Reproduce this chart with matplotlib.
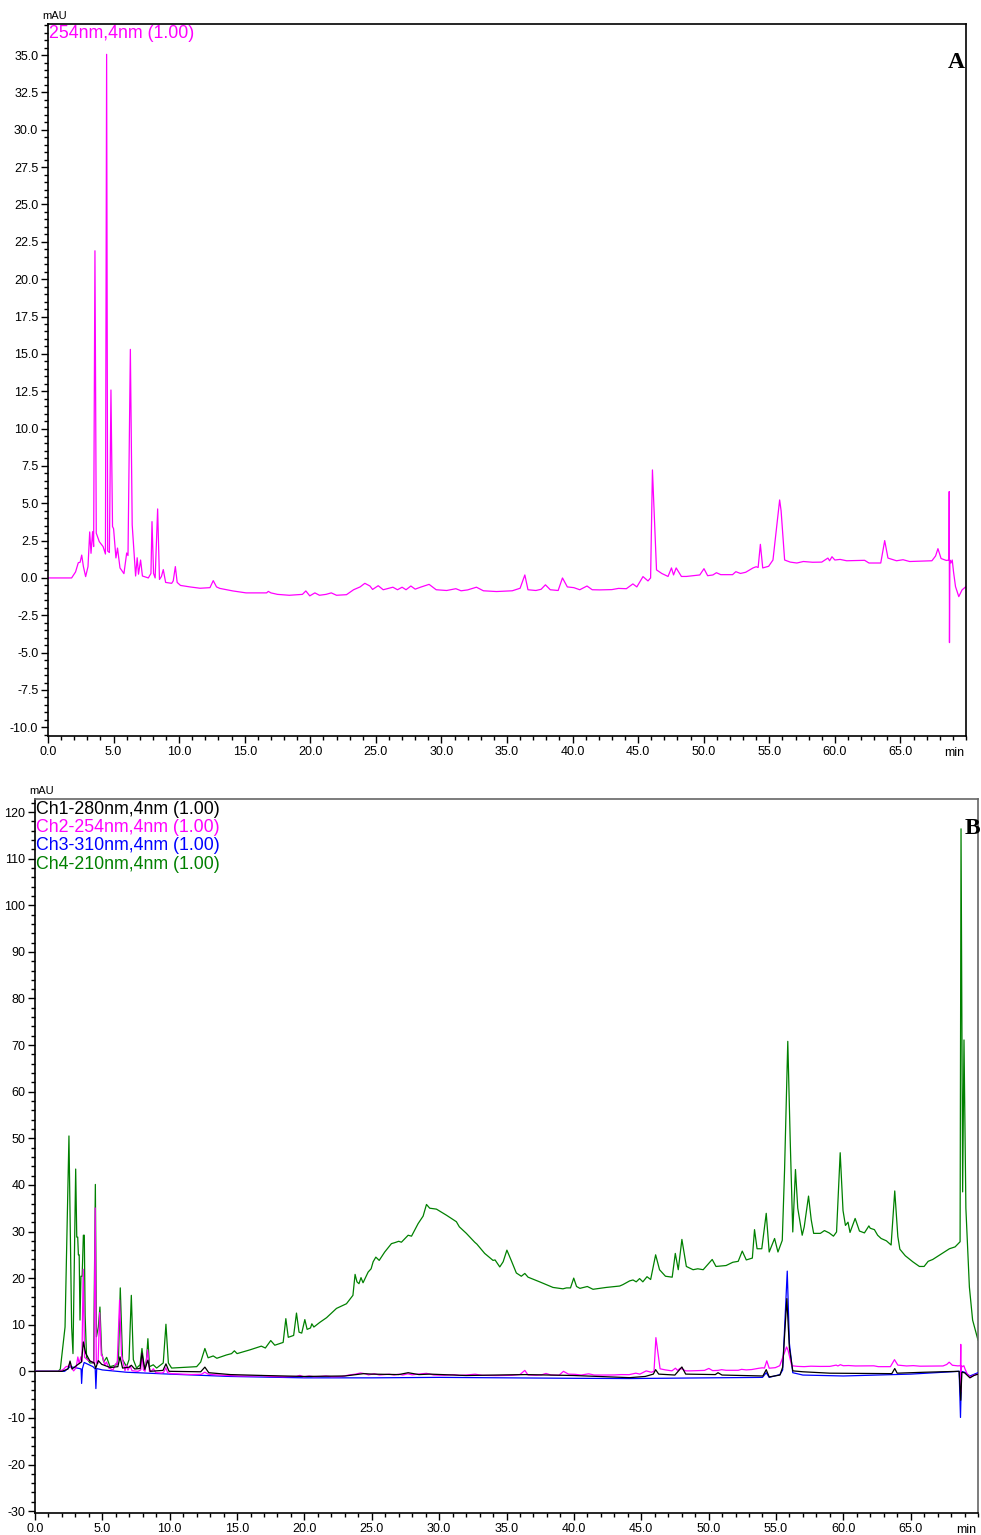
import matplotlib
matplotlib.use("Agg")
import matplotlib.pyplot as plt
from matplotlib.ticker import MultipleLocator, FixedLocator
import numpy as np

plt.rcParams['font.family'] = ['Liberation Sans', 'DejaVu Sans']

# ---------------- DATA ----------------
# Ch2 254 nm trace (also the single trace of panel A): time (min), signal (mAU)
ch2_t = [0.0, 1.8, 2.1, 2.31, 2.45, 2.57, 2.7, 2.87, 3.05, 3.18, 3.28, 3.40, 3.48, 3.58, 3.68,
         3.91, 4.2, 4.38, 4.47, 4.55, 4.68, 4.80, 4.92, 5.0, 5.18, 5.3, 5.49, 5.79, 6.0, 6.1,
         6.28, 6.42, 6.5, 6.68, 6.8, 6.9, 7.06, 7.2, 7.65, 7.85, 7.93, 8.05, 8.17, 8.36, 8.5,
         8.65, 8.79, 8.97, 9.43, 9.55, 9.71, 9.85, 10.1, 10.82, 11.6, 12.35, 12.6, 12.85, 13.1,
         14.1, 15.1, 16.67, 16.8, 17.0, 17.5, 18.4, 19.4, 19.66, 19.96, 20.35, 20.7, 21.2, 21.6,
         22.0, 22.76, 23.3, 23.8, 24.16, 24.55, 24.75, 25.18, 25.56, 26.3, 26.65, 27.0, 27.3,
         27.67, 28.0, 28.4, 29.06, 29.6, 30.4, 31.1, 31.5, 32.0, 32.67, 33.2, 34.2, 35.4, 36.0,
         36.36, 36.6, 37.2, 37.6, 37.93, 38.3, 38.9, 39.23, 39.6, 40.1, 40.55, 41.1, 41.5, 42.07,
         43.0, 43.5, 44.1, 44.6, 44.9, 45.37, 45.75, 45.95, 46.09, 46.4, 46.8, 47.28, 47.54, 47.7,
         47.9, 48.3, 48.68, 49.7, 50.02, 50.3, 50.7, 50.97, 51.3, 52.2, 52.45, 52.8, 53.2, 53.76,
         54.0, 54.15, 54.32, 54.5, 54.95, 55.28, 55.79, 55.9, 56.17, 56.6, 57.1, 57.6, 58.3, 59.0,
         59.47, 59.6, 59.78, 60.0, 60.4, 60.9, 62.27, 62.6, 63.5, 63.8, 64.05, 64.7, 65.2, 65.7,
         67.4, 67.68, 67.86, 68.1, 68.5, 68.70, 68.72, 68.74, 68.77, 68.85, 68.95, 69.05, 69.2,
         69.45, 69.7, 70.0]
ch2_v = [0.0, 0.0, 0.4, 1.02, 1.05, 1.53, 0.76, 0.09, 0.76, 3.08, 1.65, 3.1, 2.1, 21.9, 3.0,
         2.43, 2.1, 1.6, 35.05, 1.8, 1.7, 12.58, 3.44, 3.3, 1.34, 2.0, 0.67, 0.29, 1.67, 1.5,
         15.3, 3.55, 2.5, 0.13, 1.35, 0.25, 1.2, 0.13, 0.0, 0.3, 3.77, 0.3, 0.0, 4.62, -0.1,
         0.1, 0.56, -0.3, -0.36, -0.2, 0.76, -0.3, -0.5, -0.6, -0.69, -0.65, -0.18, -0.6, -0.7,
         -0.87, -1.0, -1.0, -0.9, -1.0, -1.1, -1.16, -1.1, -0.87, -1.2, -1.0, -1.16, -1.1, -1.0,
         -1.16, -1.12, -0.79, -0.6, -0.36, -0.54, -0.77, -0.52, -0.79, -0.62, -0.79, -0.62, -0.79,
         -0.54, -0.75, -0.62, -0.43, -0.79, -0.84, -0.72, -0.86, -0.8, -0.62, -0.86, -0.91, -0.86, -0.69,
         0.2, -0.79, -0.84, -0.76, -0.46, -0.79, -0.84, 0.0, -0.6, -0.65, -0.79, -0.54, -0.79, -0.8,
         -0.78, -0.7, -0.72, -0.4, -0.6, 0.09, -0.2, 0.0, 7.23, 0.54, 0.3, 0.1, 0.67, 0.2,
         0.67, 0.1, 0.1, 0.2, 0.62, 0.15, 0.2, 0.35, 0.22, 0.22, 0.42, 0.3, 0.38, 0.67,
         0.75, 0.7, 2.25, 0.67, 0.78, 1.2, 5.22, 4.5, 1.2, 1.06, 1.0, 1.1, 1.05, 1.06,
         1.33, 1.15, 1.42, 1.2, 1.24, 1.15, 1.18, 1.0, 1.0, 2.5, 1.33, 1.15, 1.22, 1.1,
         1.15, 1.47, 1.96, 1.3, 1.17, 1.2, 5.78, -4.33, 1.2, 1.0, 1.2, 0.4, -0.58,
         -1.25, -0.8, -0.58]

# Ch4 210 nm trace
ch4_t = [0.0, 1.73, 1.88, 2.23, 2.52, 2.72, 2.82, 3.02, 3.1, 3.17, 3.22, 3.28, 3.34, 3.41, 3.5,
         3.59, 3.66, 3.72, 3.83, 4.08, 4.35, 4.48, 4.56, 4.7, 4.82, 4.95, 5.1, 5.32, 5.57, 6.06,
         6.2, 6.33, 6.5, 6.8, 6.98, 7.15, 7.3, 7.54, 7.8, 7.94, 8.1, 8.25, 8.38, 8.5, 8.78,
         9.03, 9.52, 9.72, 9.9, 10.14, 12.0, 12.3, 12.61, 12.85, 13.23, 13.5, 14.2, 14.59, 14.8,
         15.0, 15.95, 16.8, 17.1, 17.5, 17.8, 18.42, 18.62, 18.8, 19.2, 19.41, 19.6, 19.8, 20.03,
         20.2, 20.45, 20.55, 20.7, 21.14, 21.64, 22.38, 23.12, 23.6, 23.76, 23.9, 24.05, 24.2,
         24.35, 24.73, 24.95, 25.1, 25.3, 25.55, 25.96, 26.46, 26.7, 27.0, 27.2, 27.7, 27.95,
         28.44, 28.81, 29.06, 29.3, 29.8, 30.54, 31.28, 31.5, 32.02, 32.64, 32.8, 33.38, 34.0,
         34.15, 34.5, 34.75, 35.03, 35.35, 35.73, 36.1, 36.36, 36.6, 37.46, 38.45, 39.19, 39.45,
         39.75, 39.99, 40.2, 40.45, 41.0, 41.42, 42.41, 43.4, 43.64, 44.14, 44.39, 44.63, 44.88,
         45.12, 45.43, 45.7, 46.07, 46.36, 46.8, 47.3, 47.53, 47.75, 48.02, 48.35, 48.85, 49.2,
         49.6, 50.27, 50.55, 51.3, 51.8, 52.2, 52.5, 52.8, 53.25, 53.41, 53.6, 53.95, 54.28,
         54.5, 54.9, 55.15, 55.47, 55.64, 55.88, 56.06, 56.25, 56.45, 56.62, 56.95, 57.1, 57.42,
         57.62, 57.8, 58.3, 58.6, 58.95, 59.27, 59.5, 59.77, 59.98, 60.16, 60.35, 60.5, 60.88,
         61.2, 61.57, 61.9, 62.0, 62.31, 62.55, 62.81, 63.2, 63.55, 63.82, 64.05, 64.2, 64.6,
         65.16, 65.65, 66.0, 66.3, 66.64, 67.13, 67.88, 68.3, 68.67, 68.74, 68.86, 68.96, 69.1,
         69.36, 69.6, 70.0]
ch4_v = [0.0, 0.0, 0.5, 9.5, 50.5, 9.5, 3.8, 43.4, 28.8, 28.8, 25.0, 25.0, 11.0, 20.4, 20.4,
         29.2, 29.2, 12.0, 2.9, 1.8, 1.8, 40.1, 7.4, 9.5, 13.8, 3.9, 2.0, 3.0, 1.0, 1.4,
         3.0, 17.9, 2.5, 1.0, 2.5, 16.3, 2.5, 0.7, 1.4, 4.9, 1.0, 1.5, 7.0, 1.0, 1.4,
         0.7, 1.8, 10.1, 1.8, 0.7, 1.0, 2.0, 4.9, 2.9, 3.3, 2.8, 3.5, 3.8, 4.4,
         3.8, 4.6, 5.4, 5.0, 6.6, 5.6, 6.2, 11.3, 7.3, 7.7, 12.5, 8.4, 8.2, 11.1,
         9.0, 9.3, 10.2, 9.5, 10.5, 11.5, 13.5, 14.5, 16.3, 20.8, 19.2, 18.8, 20.1,
         19.0, 21.3, 22.0, 23.5, 24.5, 23.8, 25.6, 27.4, 27.6, 27.9, 27.7, 29.2, 29.0,
         31.7, 33.3, 35.8, 35.0, 34.8, 33.5, 32.1, 31.0, 29.6, 27.7, 27.3, 25.3, 23.8,
         23.9, 22.4, 23.5, 26.0, 23.8, 21.1, 20.4, 21.0, 20.2, 19.2, 18.0, 17.7, 17.9,
         17.9, 20.0, 18.2, 17.8, 18.2, 17.6, 18.0, 18.3, 18.6, 19.4, 19.6, 19.2, 19.9,
         19.2, 20.3, 19.7, 25.0, 21.8, 20.4, 20.2, 25.3, 21.8, 28.3, 22.5, 21.8, 22.0,
         21.8, 24.0, 22.5, 22.7, 23.4, 23.6, 25.8, 23.9, 24.3, 30.4, 26.3, 26.3, 33.9,
         25.6, 28.5, 25.6, 28.1, 43.1, 70.8, 49.6, 29.9, 43.3, 35.0, 29.2, 31.0, 37.6,
         32.5, 29.6, 29.6, 30.2, 29.7, 29.0, 29.9, 46.9, 34.5, 31.3, 32.0, 29.8, 32.8,
         30.1, 29.7, 31.2, 30.7, 30.4, 29.2, 28.5, 28.0, 27.1, 38.7, 28.9, 26.2, 24.8,
         23.5, 22.5, 22.5, 23.6, 24.0, 24.9, 26.3, 26.7, 27.8, 116.4, 38.5, 71.1, 35.0,
         18.1, 11.0, 6.7]

# Ch1 280 nm trace
ch1_t = [0.0, 2.0, 2.45, 2.6, 2.75, 3.2, 3.45, 3.59, 3.76, 4.08, 4.4, 4.5, 4.7, 4.95, 5.6,
         6.15, 6.31, 6.5, 7.0, 7.15, 7.4, 7.8, 7.94, 8.15, 8.38, 8.55, 9.5, 9.72, 9.95, 12.3,
         12.61, 12.9, 14.5, 17.0, 20.0, 23.0, 24.4, 25.0, 27.0, 27.7, 28.5, 29.3, 32.0, 36.4,
         40.0, 44.14, 45.3, 45.9, 46.07, 46.3, 47.5, 48.02, 48.3, 50.5, 50.7, 51.0, 54.03, 54.28,
         54.5, 55.3, 55.5, 55.81, 56.0, 56.25, 57.0, 59.0, 63.6, 63.82, 64.0, 66.0, 68.6, 68.72,
         68.8, 69.0, 69.4, 69.7, 70.0]
ch1_v = [0.0, 0.0, 0.5, 2.2, 0.5, 1.5, 2.0, 6.3, 3.9, 2.2, 1.8, 0.6, 2.3, 1.5, 0.8,
         1.0, 3.1, 0.7, 0.9, 1.3, 0.5, 0.6, 3.9, 0.4, 2.4, 0.0, 0.2, 1.6, 0.0, -0.1,
         0.9, -0.3, -0.7, -0.9, -1.1, -1.0, -0.5, -0.6, -0.7, -0.3, -0.7, -0.6, -0.9, -0.7,
         -0.9, -1.36, -1.1, -0.6, 0.35, -0.6, -0.8, 0.93, -0.6, -0.7, -0.3, -0.8, -1.0, 0.35,
         -1.2, -0.8, 0.9, 15.6, 5.0, 0.1, -0.1, -0.4, -0.5, 0.6, -0.4, -0.2, 0.0, -6.2,
         -0.2, -0.3, -1.4, -0.9, -0.6]

# Ch3 310 nm trace
ch3_t = [0.0, 2.2, 2.6, 3.3, 3.42, 3.46, 3.52, 3.65, 4.3, 4.47, 4.52, 4.58, 5.0, 6.8, 10.0,
         14.47, 20.0, 25.0, 30.0, 35.0, 40.0, 44.14, 54.0, 54.28, 54.5, 55.3, 55.5, 55.84, 56.0,
         56.25, 57.0, 60.0, 65.0, 68.6, 68.70, 68.78, 69.0, 69.4, 70.0]
ch3_v = [0.0, 0.0, 1.0, 0.6, 0.5, -2.6, 0.6, 1.9, 1.0, 0.5, -3.7, 0.6, 0.3, -0.2, -0.6,
         -1.1, -1.4, -1.4, -1.3, -1.4, -1.5, -1.55, -1.3, -0.3, -1.3, -0.7, 0.3, 21.5, 6.0,
         -0.3, -0.8, -1.0, -0.6, 0.0, -9.9, 0.0, -0.2, -1.0, -0.3]

legend_a = "254nm,4nm (1.00)"
legend_b = ["Ch1-280nm,4nm (1.00)", "Ch2-254nm,4nm (1.00)",
            "Ch3-310nm,4nm (1.00)", "Ch4-210nm,4nm (1.00)"]
colors_b = ["black", "magenta", "#0000ff", "green"]

x_major = [0, 5, 10, 15, 20, 25, 30, 35, 40, 45, 50, 55, 60, 65]
x_labels = ["%.1f" % v for v in x_major]

# ---------------- FIGURE ----------------
W, H = 981, 1535
fig = plt.figure(figsize=(W / 100, H / 100), dpi=100)


def fx(px):
    return px / W


def fy(py):
    return 1 - py / H


def style_axes(ax, ymajor, yminor, yfmt, frame_color):
    ax.set_xlim(0, 70)
    ax.xaxis.set_major_locator(FixedLocator(x_major))
    ax.set_xticklabels(x_labels)
    ax.xaxis.set_minor_locator(MultipleLocator(1))
    ax.yaxis.set_major_locator(MultipleLocator(ymajor))
    ax.yaxis.set_minor_locator(MultipleLocator(yminor))
    ax.yaxis.set_major_formatter(matplotlib.ticker.FormatStrFormatter(yfmt))
    ax.tick_params(which='major', direction='out', length=5, width=1, labelsize=9, pad=2)
    ax.tick_params(which='minor', direction='out', length=3, width=1)
    ax.tick_params(top=False, right=False)
    for s in ['left', 'bottom']:
        ax.spines[s].set_linewidth(1.2)
        ax.spines[s].set_color('black')
    for s in ['top', 'right']:
        ax.spines[s].set_linewidth(1.2)
        ax.spines[s].set_color(frame_color)
    ax.annotate("min", xy=(1, 0), xycoords='axes fraction', xytext=(-1, -8),
                textcoords='offset points', ha='right', va='top', fontsize=9)


# Panel A
axA = fig.add_axes([fx(48), fy(736), fx(966) - fx(48), fy(24) - fy(736)])
axA.plot(ch2_t, ch2_v, color='magenta', lw=0.9)
axA.set_ylim(-10.58, 37.08)
style_axes(axA, 2.5, 0.5, '%.1f', 'black')
fig.text(fx(42), fy(11), "mAU", ha='left', va='top', fontsize=8)
fig.text(fx(49), fy(25.5), legend_a, ha='left', va='top', fontsize=12.8, color='magenta')
fig.text(fx(956), fy(62), "A", ha='center', va='center', fontsize=17,
         fontweight='bold', fontfamily='Liberation Serif')

# Panel B
axB = fig.add_axes([fx(35), fy(1513), fx(978) - fx(35), fy(799) - fy(1513)])
axB.plot(ch4_t, ch4_v, color='green', lw=0.9, zorder=2)
axB.plot(ch3_t, ch3_v, color='#0000ff', lw=0.9, zorder=3)
axB.plot(ch2_t, ch2_v, color='magenta', lw=0.9, zorder=4)
axB.plot(ch1_t, ch1_v, color='black', lw=0.9, zorder=5)
axB.set_ylim(-30.4, 122.8)
style_axes(axB, 10, 2, '%d', '#666666')
fig.text(fx(29), fy(786), "mAU", ha='left', va='top', fontsize=8)
for i, (lab, c) in enumerate(zip(legend_b, colors_b)):
    fig.text(fx(36), fy(800.5 + i * 18.5), lab, ha='left', va='top', fontsize=12.8, color=c)
fig.text(fx(972), fy(828), "B", ha='center', va='center', fontsize=17,
         fontweight='bold', fontfamily='Liberation Serif')

fig.savefig("out.png", dpi=100)
